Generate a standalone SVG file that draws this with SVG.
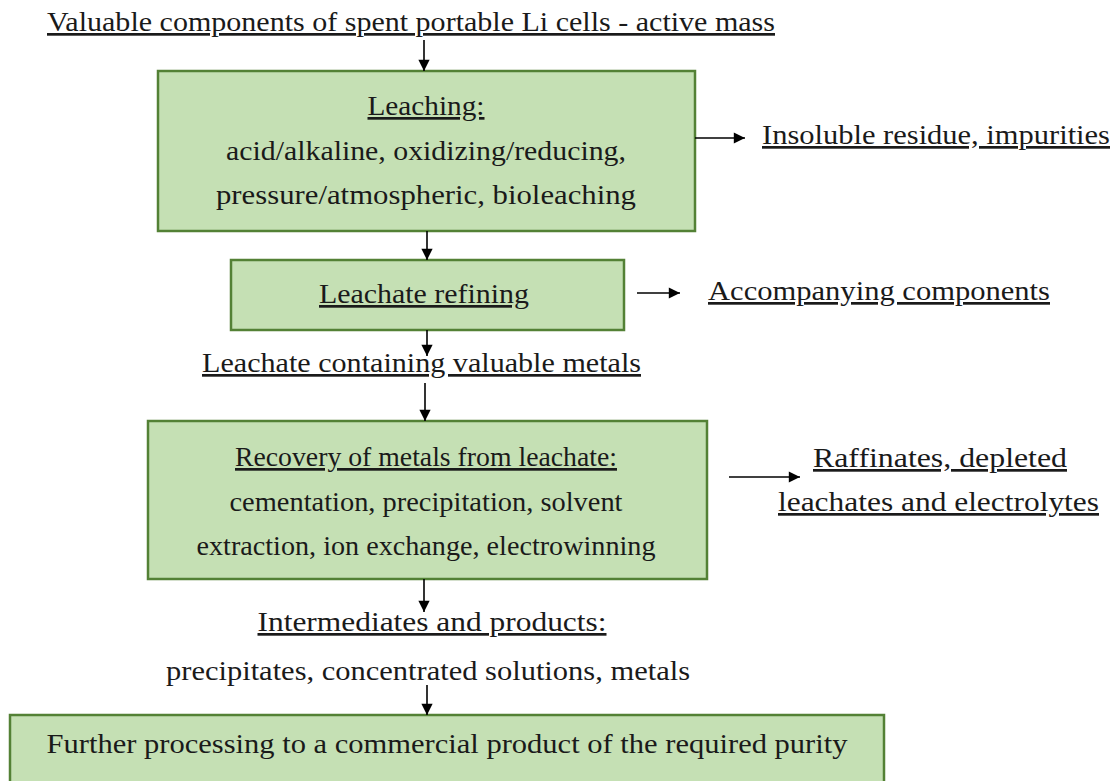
<svg xmlns="http://www.w3.org/2000/svg" width="1117" height="781" viewBox="0 0 1117 781">
  <style>
    .box { fill: #c5e0b4; stroke: #538135; stroke-width: 2.5; }
    .u { text-decoration: underline; }
    .c { text-anchor: middle; }
    .ln { stroke: #000; stroke-width: 1.6; fill: none; }
  </style>
  <defs>
    <marker id="ah" viewBox="0 0 10 10" refX="10" refY="5" markerWidth="8" markerHeight="7" markerUnits="strokeWidth" orient="auto">
      <path d="M0,0 L10,5 L0,10 z" fill="#000"/>
    </marker>
  </defs>

  <rect width="1117" height="781" fill="#fff"/>

  <g font-family="Liberation Serif, Times New Roman, serif" font-size="27" fill="#1a1a1a">
  <g id="input">
    <text class="u" x="47" y="31" textLength="728" lengthAdjust="spacingAndGlyphs">Valuable components of spent portable Li cells - active mass</text>
  </g>

  <g id="leaching">
    <rect class="box" x="158" y="71" width="537" height="160"/>
    <text class="u c" x="426" y="115" textLength="117" lengthAdjust="spacingAndGlyphs">Leaching:</text>
    <text class="c" x="426" y="160" textLength="400" lengthAdjust="spacingAndGlyphs">acid/alkaline, oxidizing/reducing,</text>
    <text class="c" x="426" y="204" textLength="420" lengthAdjust="spacingAndGlyphs">pressure/atmospheric, bioleaching</text>
  </g>

  <g id="residue">
    <text class="u" x="762" y="144" textLength="348" lengthAdjust="spacingAndGlyphs">Insoluble residue, impurities</text>
  </g>

  <g id="refining">
    <rect class="box" x="231" y="260" width="393" height="70"/>
    <text class="u c" x="424" y="303" textLength="210" lengthAdjust="spacingAndGlyphs">Leachate refining</text>
  </g>

  <g id="accompanying">
    <text class="u" x="708" y="300" textLength="342" lengthAdjust="spacingAndGlyphs">Accompanying components</text>
  </g>

  <g id="leachate">
    <text class="u" x="202" y="372" textLength="439" lengthAdjust="spacingAndGlyphs">Leachate containing valuable metals</text>
  </g>

  <g id="recovery">
    <rect class="box" x="148" y="421" width="559" height="158"/>
    <text class="u c" x="426" y="466" textLength="382" lengthAdjust="spacingAndGlyphs">Recovery of metals from leachate:</text>
    <text class="c" x="426" y="511" textLength="393" lengthAdjust="spacingAndGlyphs">cementation, precipitation, solvent</text>
    <text class="c" x="426" y="555" textLength="459" lengthAdjust="spacingAndGlyphs">extraction, ion exchange, electrowinning</text>
  </g>

  <g id="raffinates">
    <text class="u" x="813" y="467" textLength="254" lengthAdjust="spacingAndGlyphs">Raffinates, depleted </text>
    <text class="u" x="778" y="511" textLength="321" lengthAdjust="spacingAndGlyphs">leachates and electrolytes </text>
  </g>

  <g id="products">
    <text class="u c" x="432" y="631" textLength="349" lengthAdjust="spacingAndGlyphs">Intermediates and products:</text>
    <text class="c" x="428" y="680" textLength="524" lengthAdjust="spacingAndGlyphs">precipitates, concentrated solutions, metals</text>
  </g>

  <g id="further">
    <rect class="box" x="10" y="715" width="874" height="80"/>
    <text class="c" x="447" y="753" textLength="801" lengthAdjust="spacingAndGlyphs">Further processing to a commercial product of the required purity</text>
  </g>
  </g>

  <g id="connectors">
    <line class="ln" x1="424" y1="40" x2="424" y2="71" marker-end="url(#ah)"/>
    <line class="ln" x1="695" y1="138" x2="745" y2="138" marker-end="url(#ah)"/>
    <line class="ln" x1="427" y1="231" x2="427" y2="260" marker-end="url(#ah)"/>
    <line class="ln" x1="637" y1="293" x2="680" y2="293" marker-end="url(#ah)"/>
    <line class="ln" x1="427" y1="330" x2="427" y2="356" marker-end="url(#ah)"/>
    <line class="ln" x1="425" y1="383" x2="425" y2="421" marker-end="url(#ah)"/>
    <line class="ln" x1="729" y1="477" x2="800" y2="477" marker-end="url(#ah)"/>
    <line class="ln" x1="424" y1="579" x2="424" y2="612" marker-end="url(#ah)"/>
    <line class="ln" x1="427" y1="685" x2="427" y2="715" marker-end="url(#ah)"/>
  </g>
</svg>
